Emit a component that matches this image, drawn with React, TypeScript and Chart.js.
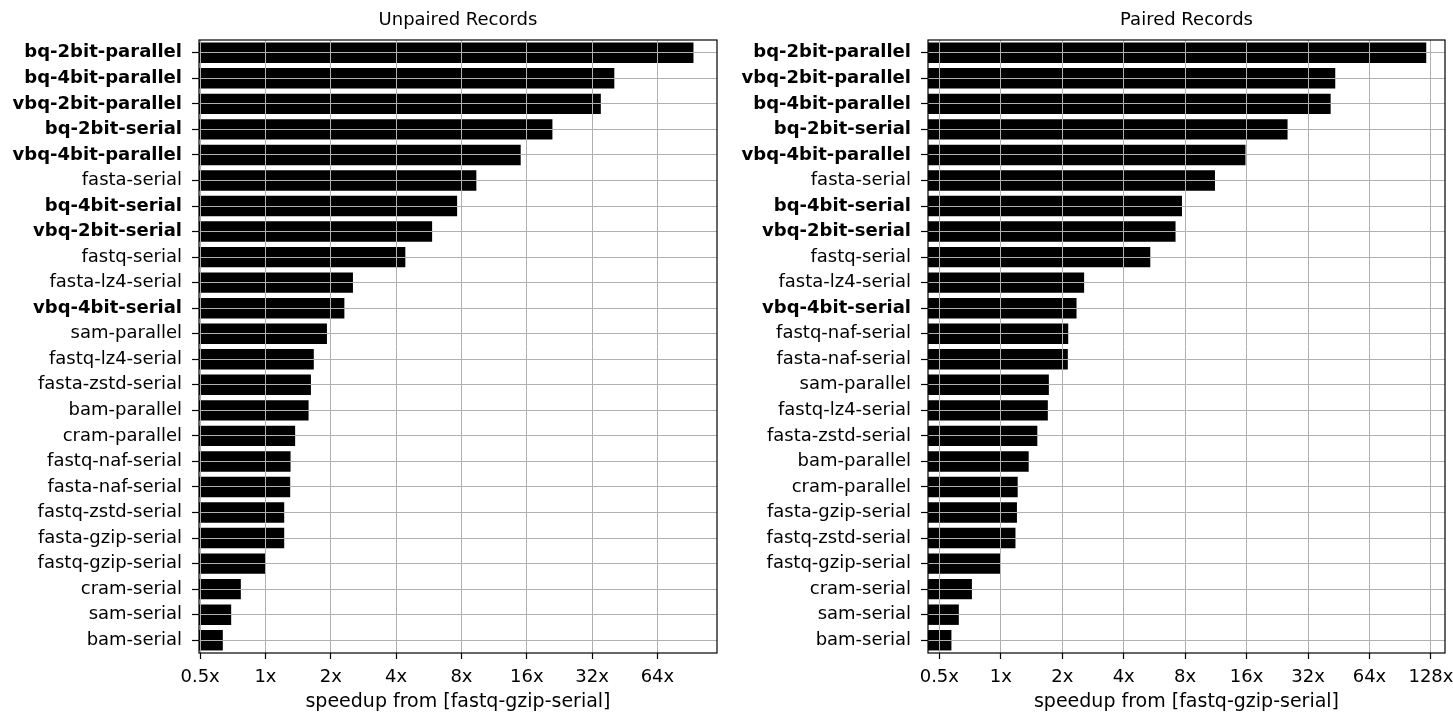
import React, { useEffect, useRef } from 'react';
import { Chart, registerables } from 'chart.js';

Chart.register(...registerables);

// Unpaired records: speedup relative to fastq-gzip-serial (sorted fastest first)
const unpairedNames = [
  'bq-2bit-parallel', 'bq-4bit-parallel', 'vbq-2bit-parallel', 'bq-2bit-serial',
  'vbq-4bit-parallel', 'fasta-serial', 'bq-4bit-serial', 'vbq-2bit-serial',
  'fastq-serial', 'fasta-lz4-serial', 'vbq-4bit-serial', 'sam-parallel',
  'fastq-lz4-serial', 'fasta-zstd-serial', 'bam-parallel', 'cram-parallel',
  'fastq-naf-serial', 'fasta-naf-serial', 'fastq-zstd-serial', 'fasta-gzip-serial',
  'fastq-gzip-serial', 'cram-serial', 'sam-serial', 'bam-serial',
];
const unpairedSpeedup = [
  93.8, 40.5, 35.1, 21.0, 15.0, 9.37, 7.64, 5.86,
  4.41, 2.53, 2.31, 1.92, 1.67, 1.62, 1.58, 1.37,
  1.305, 1.3, 1.22, 1.22, 1.0, 0.77, 0.695, 0.636,
];

// Paired records
const pairedNames = [
  'bq-2bit-parallel', 'vbq-2bit-parallel', 'bq-4bit-parallel', 'bq-2bit-serial',
  'vbq-4bit-parallel', 'fasta-serial', 'bq-4bit-serial', 'vbq-2bit-serial',
  'fastq-serial', 'fasta-lz4-serial', 'vbq-4bit-serial', 'fastq-naf-serial',
  'fasta-naf-serial', 'sam-parallel', 'fastq-lz4-serial', 'fasta-zstd-serial',
  'bam-parallel', 'cram-parallel', 'fasta-gzip-serial', 'fastq-zstd-serial',
  'fastq-gzip-serial', 'cram-serial', 'sam-serial', 'bam-serial',
];
const pairedSpeedup = [
  121.4, 43.5, 41.3, 25.4, 15.8, 11.2, 7.72, 7.18,
  5.4, 2.56, 2.35, 2.14, 2.13, 1.72, 1.7, 1.51,
  1.37, 1.21, 1.2, 1.18, 1.0, 0.722, 0.623, 0.573,
];

const tickValues = [0.5, 1, 2, 4, 8, 16, 32, 64, 128];
const tickLabels = ['0.5x', '1x', '2x', '4x', '8x', '16x', '32x', '64x', '128x'];
const axisTitle = 'speedup from [fastq-gzip-serial]';

const FONT = "'DejaVu Sans', sans-serif";
const FONT_SIZE = 18;
const isBinseq = (name: string) => /^v?bq-/.test(name);

// Draws the axes frame (all four spines) and the panel title above the plot area.
const framePlugin = (title: string) => ({
  id: 'frameAndTitle',
  afterDraw(chart: any) {
    const { ctx, chartArea: a } = chart;
    ctx.save();
    ctx.strokeStyle = '#000';
    ctx.lineWidth = 1.2;
    ctx.strokeRect(a.left, a.top, a.right - a.left, a.bottom - a.top);
    ctx.fillStyle = '#000';
    ctx.font = `${FONT_SIZE}px ${FONT}`;
    ctx.textAlign = 'center';
    ctx.textBaseline = 'middle';
    ctx.fillText(title, (a.left + a.right) / 2, 20);
    ctx.restore();
  },
});

interface PanelProps {
  title: string;
  names: string[];
  values: number[];
  xMin: number;
  xMax: number;
  left: number;
  width: number;
  yAxisWidth: number;
  rightPad: number;
}

function Panel({ title, names, values, xMin, xMax, left, width, yAxisWidth, rightPad }: PanelProps) {
  const ref = useRef<HTMLCanvasElement | null>(null);

  useEffect(() => {
    if (!ref.current) return;
    const chart = new Chart(ref.current, {
      type: 'bar',
      data: {
        labels: names,
        datasets: [
          {
            data: values,
            backgroundColor: '#000',
            borderColor: '#222',
            borderWidth: 0,
            barPercentage: 0.8,
            categoryPercentage: 1,
          },
        ],
      },
      options: {
        indexAxis: 'y',
        responsive: false,
        animation: false,
        layout: { padding: { top: 40, left: 0, right: rightPad, bottom: 0 } },
        plugins: {
          legend: { display: false },
          tooltip: { enabled: false },
          title: { display: false },
        },
        scales: {
          x: {
            type: 'logarithmic',
            min: xMin,
            max: xMax,
            afterBuildTicks: (s: any) => {
              s.ticks = tickValues.filter((v) => v >= xMin && v <= xMax).map((v) => ({ value: v }));
            },
            afterFit: (s: any) => {
              s.height = 60;
              s.paddingLeft = 0;
              s.paddingRight = 0;
            },
            grid: {
              color: '#b0b0b0',
              lineWidth: 1,
              z: 1,
              drawTicks: true,
              tickColor: '#000',
              tickLength: 6,
              tickWidth: 1.2,
            },
            border: { display: false },
            ticks: {
              autoSkip: false,
              maxRotation: 0,
              color: '#000',
              padding: 8,
              font: { family: FONT, size: FONT_SIZE },
              callback: (v: any) => tickLabels[tickValues.indexOf(Number(v))],
            },
            title: {
              display: true,
              text: axisTitle,
              color: '#000',
              font: { family: FONT, size: 19, lineHeight: 1.2 },
              padding: { top: 0, bottom: 0 },
            },
          },
          y: {
            type: 'category',
            offset: true,
            afterFit: (s: any) => {
              s.width = yAxisWidth;
              s.paddingTop = 0;
              s.paddingBottom = 0;
            },
            grid: {
              offset: false,
              color: '#b0b0b0',
              lineWidth: 1,
              z: 1,
              drawTicks: true,
              tickColor: '#000',
              tickLength: 7,
              tickWidth: 1.2,
            },
            border: { display: false },
            ticks: {
              autoSkip: false,
              color: '#000',
              padding: 10,
              font: (ctx: any) => ({
                family: FONT,
                size: FONT_SIZE,
                weight: isBinseq(names[ctx.index] || '') ? 'bold' : 'normal',
              }),
            },
          },
        },
      } as any,
      plugins: [framePlugin(title)],
    });
    return () => chart.destroy();
  }, []);

  return (
    <canvas
      ref={ref}
      width={width}
      height={713}
      style={{ position: 'absolute', left, top: 0, width, height: 713 }}
    />
  );
}

export default function App() {
  return (
    <div style={{ position: 'fixed', left: 0, top: 0, width: 1453, height: 713, background: '#fff' }}>
      <Panel
        title="Unpaired Records"
        names={unpairedNames}
        values={unpairedSpeedup}
        xMin={0.494}
        xMax={120.4}
        left={0}
        width={726}
        yAxisWidth={199}
        rightPad={9}
      />
      <Panel
        title="Paired Records"
        names={pairedNames}
        values={pairedSpeedup}
        xMin={0.44}
        xMax={150}
        left={726}
        width={727}
        yAxisWidth={202}
        rightPad={8}
      />
    </div>
  );
}
